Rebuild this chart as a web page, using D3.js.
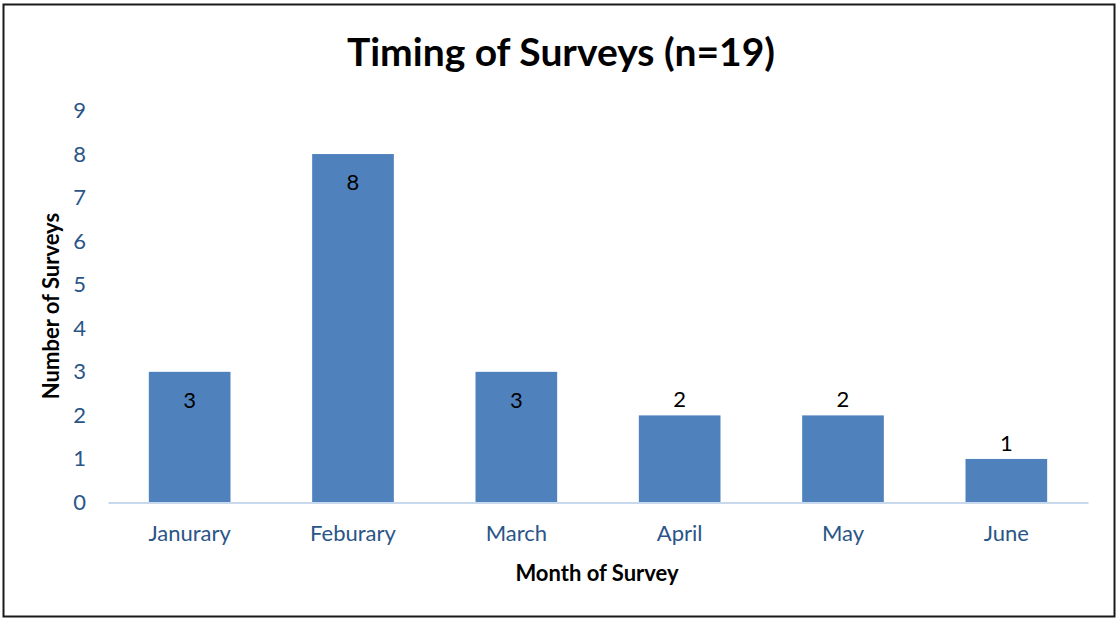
<!DOCTYPE html>
<html>
<head>
<meta charset="utf-8">
<script src="https://cdn.jsdelivr.net/npm/d3@7"></script>
<style>
  body { margin: 0; background: #fff; }
  svg text { font-family: Lato, "Open Sans", sans-serif; }
</style>
</head>
<body>
<div id="container"></div>
<script>
// Data
const months = ["Janurary", "Feburary", "March", "April", "May", "June"];
const counts = [3, 8, 3, 2, 2, 1];
const yTicks = [0, 1, 2, 3, 4, 5, 6, 7, 8, 9];

const W = 1118, H = 618;
const plot = { left: 108, right: 1088, top: 110.5, bottom: 502.5 };

const svg = d3.select("#container")
    .append("svg")
    .attr("width", W)
    .attr("height", H);

// Outer frame
svg.append("rect")
    .attr("x", 3.5).attr("y", 4.5)
    .attr("width", 1111).attr("height", 612)
    .attr("fill", "#fff")
    .attr("stroke", "#1a1a1a")
    .attr("stroke-width", 2);

// Scales
const x = d3.scaleBand()
    .domain(months)
    .range([plot.left, plot.right])
    .paddingInner(0.5)
    .paddingOuter(0.25);

const y = d3.scaleLinear()
    .domain([0, 9])
    .range([plot.bottom, plot.top]);

// Title
svg.append("text")
    .attr("x", 561).attr("y", 66)
    .attr("text-anchor", "middle")
    .attr("font-size", 39)
    .attr("font-weight", "bold")
    .attr("fill", "#000")
    .text("Timing of Surveys (n=19)");

// Y tick labels (no axis line)
const yAxis = svg.append("g")
    .attr("transform", `translate(${plot.left},0)`)
    .call(d3.axisLeft(y).tickValues(yTicks).tickSize(0).tickPadding(22));
yAxis.select(".domain").remove();
yAxis.selectAll("text")
    .attr("font-size", 22)
    .attr("fill", "#2a5587");

// Bars
svg.selectAll("rect.bar")
    .data(months)
    .enter()
    .append("rect")
    .attr("class", "bar")
    .attr("x", d => x(d))
    .attr("y", (d, i) => y(counts[i]))
    .attr("width", x.bandwidth())
    .attr("height", (d, i) => y(0) - y(counts[i]))
    .attr("fill", "#4f81bd");

// X axis
const xAxis = svg.append("g")
    .attr("transform", `translate(0,${plot.bottom})`)
    .call(d3.axisBottom(x).tickSize(0).tickPadding(23));
xAxis.select(".domain")
    .attr("stroke", "#c8d9ee")
    .attr("stroke-width", 2);
xAxis.selectAll("text")
    .attr("font-size", 22)
    .attr("fill", "#2a5587");

// Value labels: inside the bar top when tall enough, otherwise above
svg.selectAll("text.val")
    .data(months)
    .enter()
    .append("text")
    .attr("class", "val")
    .attr("x", d => x(d) + x.bandwidth() / 2)
    .attr("y", (d, i) => counts[i] >= 3 ? y(counts[i]) + 36 : y(counts[i]) - 8)
    .attr("text-anchor", "middle")
    .attr("font-size", 22)
    .attr("fill", "#000")
    .text((d, i) => counts[i]);

// Axis titles
svg.append("text")
    .attr("transform", "translate(59,306) rotate(-90)")
    .attr("text-anchor", "middle")
    .attr("font-size", 22)
    .attr("font-weight", "bold")
    .attr("fill", "#000")
    .text("Number of Surveys");

svg.append("text")
    .attr("x", 597).attr("y", 581)
    .attr("text-anchor", "middle")
    .attr("font-size", 22)
    .attr("font-weight", "bold")
    .attr("fill", "#000")
    .text("Month of Survey");
</script>
</body>
</html>
